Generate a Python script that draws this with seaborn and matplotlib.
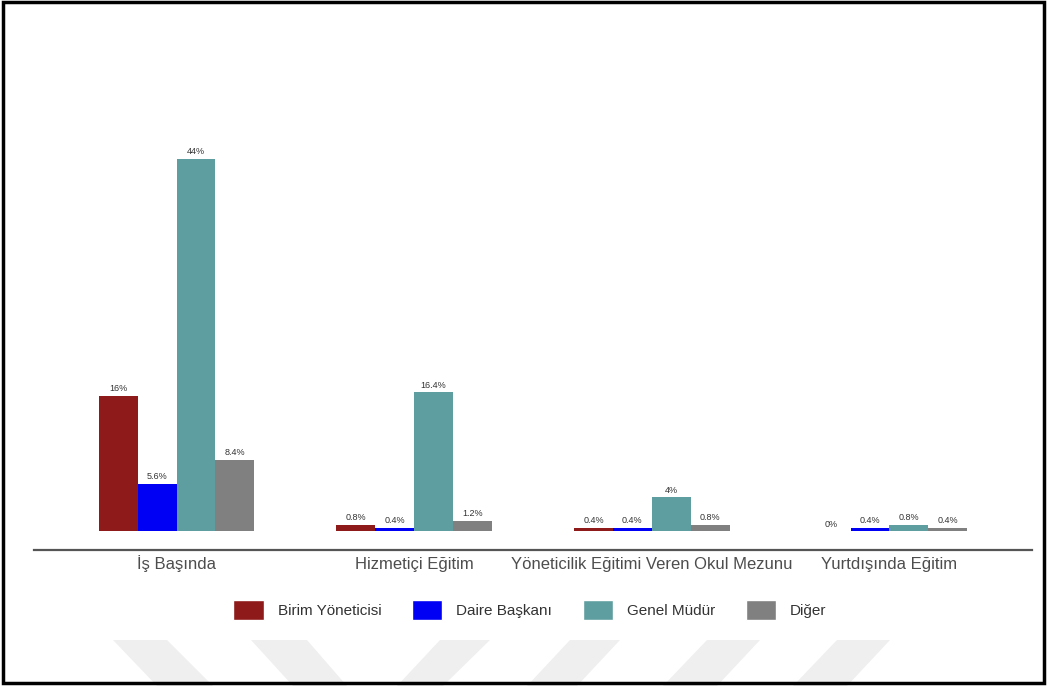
import matplotlib
matplotlib.use("Agg")
import matplotlib.pyplot as plt
from matplotlib.patches import Rectangle, Polygon
import seaborn as sns
import pandas as pd

# Eğitim türüne göre görev dağılımı (%)
categories = ["İş Başında", "Hizmetiçi Eğitim",
              "Yöneticilik Eğitimi Veren Okul Mezunu", "Yurtdışında Eğitim"]
groups = ["Birim Yöneticisi", "Daire Başkanı", "Genel Müdür", "Diğer"]
birim_yoneticisi = [16, 0.8, 0.4, 0]
daire_baskani = [5.6, 0.4, 0.4, 0.4]
genel_mudur = [44, 16.4, 4, 0.8]
diger = [8.4, 1.2, 0.8, 0.4]
colors = ["#8E1A1A", "#0000F5", "#5F9EA0", "#808080"]

series = [birim_yoneticisi, daire_baskani, genel_mudur, diger]
rows = []
for g, vals in zip(groups, series):
    for c, v in zip(categories, vals):
        rows.append({"kategori": c, "grup": g, "oran": v})
df = pd.DataFrame(rows)

sns.set_theme(style="white")
plt.rcParams["font.family"] = ["Liberation Sans", "DejaVu Sans"]

W, H = 1047, 686
fig = plt.figure(figsize=(W / 100, H / 100), dpi=100)
fig.patch.set_facecolor("white")

# light watermark stripes along the bottom edge
stripes = [((113, 167), (157, 213)), ((251, 307), (293, 347)),
           ((440, 490), (397, 443)), ((570, 620), (527, 577)),
           ((707, 760), (663, 717)), ((837, 890), (793, 847))]
y_top, y_bot = 640, 686
for (t0, t1), (b0, b1) in stripes:
    pts = [(t0 / W, 1 - y_top / H), (t1 / W, 1 - y_top / H),
           (b1 / W, 1 - y_bot / H), (b0 / W, 1 - y_bot / H)]
    fig.patches.append(Polygon(pts, closed=True, transform=fig.transFigure,
                               facecolor="#efefef", edgecolor="none", zorder=0))

ax = fig.add_axes([34 / W, (H - 550) / H, 998 / W, 410 / H])
ax.set_facecolor("none")

sns.barplot(data=df, x="kategori", y="oran", hue="grup", order=categories,
            hue_order=groups, palette=colors, width=0.655, saturation=1,
            ax=ax, legend=True)

for cont, vals in zip(ax.containers, series):
    for bar in cont:
        bar.set_edgecolor("none")
    ax.bar_label(cont, labels=[f"{v:g}%" for v in vals], padding=2,
                 fontsize=6.5, color="#333333")

ax.set_xlim(-0.6, 3.6)
ax.set_ylim(-2.2, 46.2)
ax.set_xlabel("")
ax.set_ylabel("")
ax.set_yticks([])
ax.tick_params(axis="x", length=0, pad=14, labelsize=12, labelcolor="#4d4d4d")
for lab in ax.get_xticklabels():
    lab.set_verticalalignment("baseline")
for side in ["top", "right", "left"]:
    ax.spines[side].set_visible(False)
ax.spines["bottom"].set_color("#555555")
ax.spines["bottom"].set_linewidth(1.6)

handles, labels = ax.get_legend_handles_labels()
ax.get_legend().remove()
fig.legend(handles, labels, loc="center", bbox_to_anchor=(530 / W, (H - 610) / H),
           ncol=4, frameon=False, fontsize=11, handlelength=2.0, handleheight=1.65,
           handletextpad=0.9, columnspacing=2.0, labelcolor="#333333")

# outer frame
fig.patches.append(Rectangle((0.003, 0.004), 0.994, 0.993, transform=fig.transFigure,
                             fill=False, edgecolor="black", linewidth=2.5, zorder=5))

fig.savefig("out.png", dpi=100)
